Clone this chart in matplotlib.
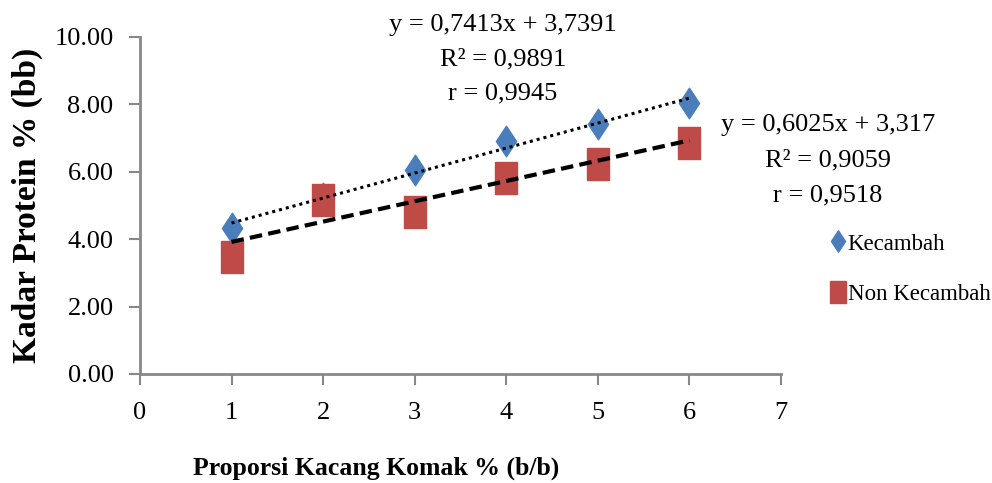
import matplotlib.pyplot as plt
from matplotlib.path import Path
import numpy as np

plt.rcParams['font.family'] = ['Liberation Serif', 'DejaVu Serif']

x = np.array([1, 2, 3, 4, 5, 6])
kecambah = np.array([4.32, 5.22, 6.05, 6.91, 7.42, 8.05])
non_kecambah = np.array([3.48, 5.16, 4.82, 5.81, 6.23, 6.85])

# trendline coefficients as printed on the chart
fit_k = (0.7413, 3.7391)
fit_nk = (0.6025, 3.317)
eq_k = ["y = 0,7413x + 3,7391", "R² = 0,9891", "r = 0,9945"]
eq_nk = ["y = 0,6025x + 3,317", "R² = 0,9059", "r = 0,9518"]

xticks = [0, 1, 2, 3, 4, 5, 6, 7]
yticks = [0, 2, 4, 6, 8, 10]

# tall diamond and tall square (the original picture is stretched vertically)
diamond = Path([(0, 1), (0.66, 0), (0, -1), (-0.66, 0), (0, 1)],
               [Path.MOVETO, Path.LINETO, Path.LINETO, Path.LINETO, Path.CLOSEPOLY])
square = Path([(-0.7, -1), (0.7, -1), (0.7, 1), (-0.7, 1), (-0.7, -1)],
              [Path.MOVETO, Path.LINETO, Path.LINETO, Path.LINETO, Path.CLOSEPOLY])

blue = '#4A7EBB'
red = '#BE4B48'

fig = plt.figure(figsize=(9.92, 4.83), dpi=100)
ax = fig.add_axes([0.1411, 0.2257, 0.6462, 0.6977])

ax.plot(x, kecambah, linestyle='none', marker=diamond, ms=22, color=blue,
        label='Kecambah', zorder=3)
ax.plot(x, non_kecambah, linestyle='none', marker=square, ms=23, color=red,
        label='Non Kecambah', zorder=3)

xl = np.array([x.min(), x.max()])
ax.plot(xl, fit_k[0] * xl + fit_k[1], color='black', lw=2.2,
        linestyle=(0, (1, 1.3)), zorder=4)
ax.plot(xl, fit_nk[0] * xl + fit_nk[1], color='black', lw=3,
        linestyle=(0, (3, 1.5)), zorder=4)

ax.set_xlim(0, 7)
ax.set_ylim(0, 10)
ax.set_xticks(xticks)
ax.set_yticks(yticks)
ax.set_yticklabels(['%.2f' % v for v in yticks])
ax.tick_params(axis='both', labelsize=19, color='#888888', width=1.5,
               length=8, direction='out')
ax.tick_params(axis='x', pad=12)
ax.tick_params(axis='y', pad=11)

for side in ['top', 'right']:
    ax.spines[side].set_visible(False)
for side in ['left', 'bottom']:
    ax.spines[side].set_color('#888888')
    ax.spines[side].set_linewidth(2)

ax.set_ylabel('Kadar Protein % (bb)', fontsize=24, fontweight='bold',
              labelpad=8)
fig.text(376 / 992, 1 - 468 / 483, 'Proporsi Kacang Komak % (b/b)',
         fontsize=18.5, fontweight='bold', ha='center', va='center')

for i, s in enumerate(eq_k):
    fig.text(503 / 992, 1 - (25 + 34 * i) / 483, s, fontsize=19,
             ha='center', va='center')
for i, s in enumerate(eq_nk):
    fig.text(828 / 992, 1 - (125 + 35 * i) / 483, s, fontsize=19,
             ha='center', va='center')

leg = ax.legend(loc='upper left', bbox_to_anchor=(820 / 992, 1 - 222 / 483),
                bbox_transform=fig.transFigure, frameon=False, fontsize=16.5,
                handlelength=0.6, handletextpad=0.1, labelspacing=1.3,
                markerscale=0.7, borderpad=0)

fig.savefig('out.png', dpi=100)
